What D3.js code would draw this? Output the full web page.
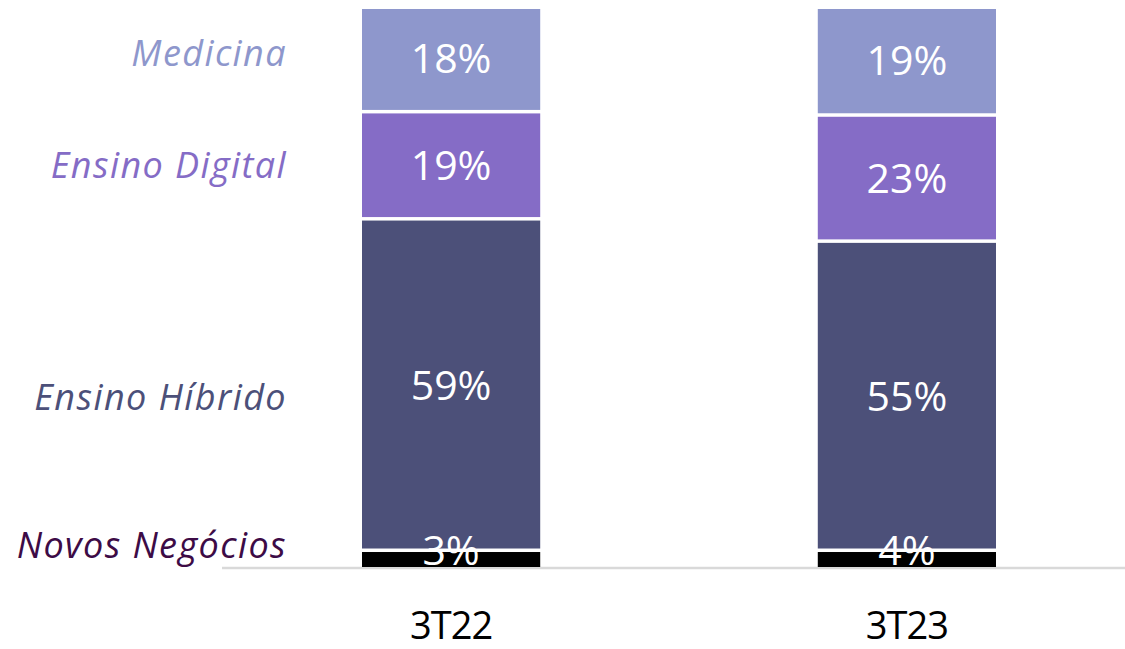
<!DOCTYPE html>
<html><head><meta charset="utf-8">
<script src="https://cdn.jsdelivr.net/npm/d3@7"></script>
<style>html,body{margin:0;padding:0;background:#fff;}svg{display:block;}</style>
</head><body>
<svg id="c" width="1125" height="649"></svg>
<script>
const categories = ["3T22", "3T23"];
const seriesNames = ["Novos Negócios", "Ensino Híbrido", "Ensino Digital", "Medicina"];
const values3T22 = [3.0, 59.4, 19.2, 18.4];
const values3T23 = [3.0, 55.4, 22.6, 19.0];
const labels3T22 = ["3%", "59%", "19%", "18%"];
const labels3T23 = ["4%", "55%", "23%", "19%"];

const barColors = ["#000000", "#4C5079", "#856CC6", "#8E97CC"];
const legendColors = ["#3D0B46", "#4C5079", "#856CC6", "#8E97CC"];
const legendDy = [-13, 13, 1, -6];
const valueDy = [-9, 0, 0, -2];

const svg = d3.select("#c");
const y = d3.scaleLinear().domain([0, 100]).range([567, 9]);
const x = d3.scaleBand().domain(categories).range([362, 996]).paddingInner(0.609).paddingOuter(0);
const gap = 3.5;

const data = categories.map((c, i) => {
  const vals = i === 0 ? values3T22 : values3T23;
  const labs = i === 0 ? labels3T22 : labels3T23;
  let cum = 0;
  return vals.map((v, k) => {
    const d = {cat: c, k, v, lab: labs[k], y0: cum, y1: cum + v};
    cum += v;
    return d;
  });
});

// axis line
svg.append("line").attr("x1", 222).attr("x2", 1125)
  .attr("y1", y(0) + 1).attr("y2", y(0) + 1)
  .attr("stroke", "#D9D9D9").attr("stroke-width", 2.5);

data.forEach(segs => {
  const n = segs.length;
  segs.forEach((d, k) => {
    const top = y(d.y1) + (k === n - 1 ? 0 : gap / 2);
    const bot = y(d.y0) - (k === 0 ? 0 : gap / 2);
    svg.append("rect").attr("x", x(d.cat)).attr("width", x.bandwidth())
      .attr("y", top).attr("height", bot - top).attr("fill", barColors[k]);
  });
});

data.forEach(segs => {
  segs.forEach((d, k) => {
    svg.append("text").attr("x", x(d.cat) + x.bandwidth() / 2)
      .attr("y", y((d.y0 + d.y1) / 2) + valueDy[k] + 15)
      .attr("text-anchor", "middle")
      .attr("font-family", "'Open Sans', sans-serif").attr("font-size", 41)
      .attr("fill", "#fff").text(d.lab);
  });
});

// category labels
categories.forEach(c => {
  svg.append("text").attr("x", x(c) + x.bandwidth() / 2).attr("y", 639)
    .attr("text-anchor", "middle")
    .attr("font-family", "'Open Sans', sans-serif").attr("font-size", 38)
    .attr("letter-spacing", -1)
    .attr("fill", "#000").text(c);
});

// series labels on the left
data[0].forEach((d, k) => {
  svg.append("text").attr("x", 287)
    .attr("y", y((d.y0 + d.y1) / 2) + 12 + legendDy[k])
    .attr("text-anchor", "end")
    .attr("font-family", "'Open Sans', sans-serif").attr("font-size", 36)
    .attr("letter-spacing", 1.4)
    .attr("font-style", "italic")
    .attr("fill", legendColors[k]).text(seriesNames[k]);
});
</script>
</body></html>
